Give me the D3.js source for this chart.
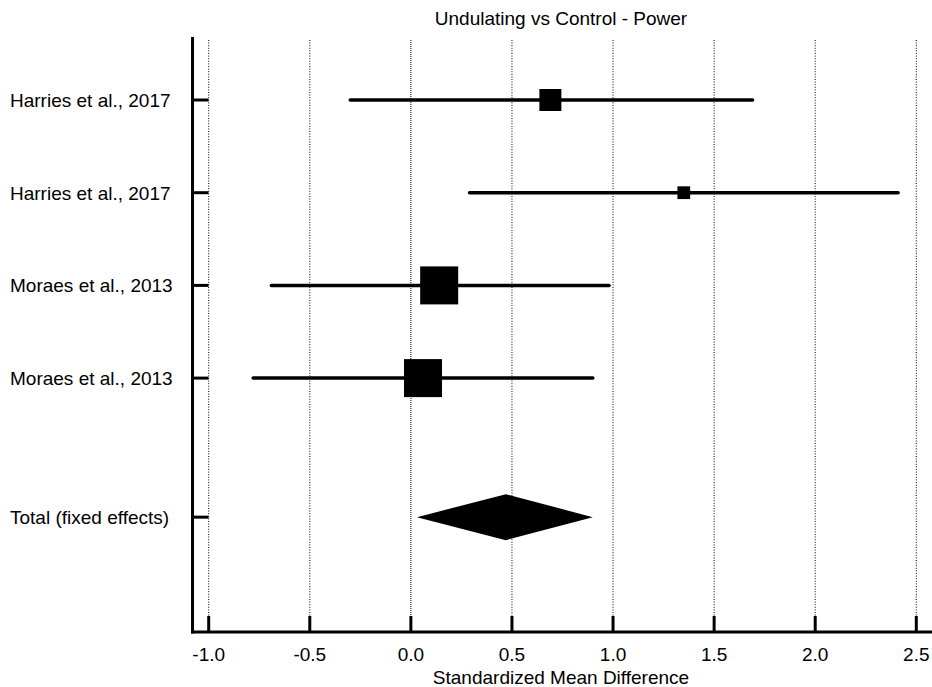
<!DOCTYPE html>
<html>
<head>
<meta charset="utf-8">
<script src="https://cdn.jsdelivr.net/npm/d3@7"></script>
<style>
  body { margin: 0; background: #fff; }
  svg text { font-family: "Liberation Sans", Arial, sans-serif; fill: #000; }
</style>
</head>
<body>
<svg id="chart" width="932" height="687"></svg>
<script>
// study rows
let studies = ["Harries et al., 2017", "Harries et al., 2017", "Moraes et al., 2013", "Moraes et al., 2013"];
let smd = [0.69, 1.35, 0.14, 0.06];
let lower = [-0.30, 0.29, -0.69, -0.78];
let upper = [1.69, 2.41, 0.98, 0.90];
let weights = [13.7, 4.6, 40.9, 40.9];

// pooled
let totalLabel = "Total (fixed effects)";
let totalEst = 0.47;
let totalLower = 0.03;
let totalUpper = 0.90;

let xTicks = [-1.0, -0.5, 0.0, 0.5, 1.0, 1.5, 2.0, 2.5];
let title = "Undulating vs Control - Power";
let xTitle = "Standardized Mean Difference";

let svg = d3.select('#chart');

let x = d3.scaleLinear().domain([-1, 2.5]).range([208.7, 916.3]);
let y = d3.scaleLinear().domain([0, 1]).range([100, 192.7]);
let size = d3.scaleSqrt().domain([0, 40.9]).range([0, 38]);

let plotTop = 37, plotBottom = 632;
let plotLeft = x(-1.08), plotRight = 932;
let fs = '19px';

// dotted grid lines
svg.selectAll('.grid')
    .data(xTicks)
    .enter()
    .append('line')
    .attr('x1', d => x(d))
    .attr('x2', d => x(d))
    .attr('y1', plotTop + 3)
    .attr('y2', plotBottom - 16)
    .attr('stroke', '#000')
    .attr('stroke-width', 1)
    .attr('stroke-dasharray', d => d === 0 ? '1,1' : '1,1.6');

// axes
svg.append('line')
    .attr('x1', plotLeft).attr('x2', plotLeft)
    .attr('y1', plotTop).attr('y2', plotBottom + 1.5)
    .attr('stroke', '#000').attr('stroke-width', 3);

svg.append('line')
    .attr('x1', plotLeft - 1.5).attr('x2', plotRight)
    .attr('y1', plotBottom).attr('y2', plotBottom)
    .attr('stroke', '#000').attr('stroke-width', 3);

// bottom ticks (inward)
svg.selectAll('.xtick')
    .data(xTicks)
    .enter()
    .append('line')
    .attr('x1', d => x(d)).attr('x2', d => x(d))
    .attr('y1', plotBottom).attr('y2', plotBottom - 16)
    .attr('stroke', '#000').attr('stroke-width', 3);

svg.selectAll('.xlab')
    .data(xTicks)
    .enter()
    .append('text')
    .attr('x', d => x(d))
    .attr('y', 661)
    .attr('text-anchor', 'middle')
    .attr('font-size', fs)
    .text(d => d.toFixed(1));

// row ticks and labels
let rows = studies.map((s, i) => ({label: s, pos: i}));
rows.push({label: totalLabel, pos: 4.5});

svg.selectAll('.ytick')
    .data(rows)
    .enter()
    .append('line')
    .attr('x1', plotLeft).attr('x2', plotLeft + 16)
    .attr('y1', d => y(d.pos)).attr('y2', d => y(d.pos))
    .attr('stroke', '#000').attr('stroke-width', 3);

svg.selectAll('.ylab')
    .data(rows)
    .enter()
    .append('text')
    .attr('x', 10)
    .attr('y', d => y(d.pos) + 7)
    .attr('font-size', fs)
    .text(d => d.label);

// confidence intervals
svg.selectAll('.ci')
    .data(smd)
    .enter()
    .append('line')
    .attr('x1', (d, i) => x(lower[i]))
    .attr('x2', (d, i) => x(upper[i]))
    .attr('y1', (d, i) => y(i))
    .attr('y2', (d, i) => y(i))
    .attr('stroke', '#000')
    .attr('stroke-width', 3.5)
    .attr('stroke-linecap', 'round');

// weighted squares
svg.selectAll('.box')
    .data(smd)
    .enter()
    .append('rect')
    .attr('x', (d, i) => x(d) - size(weights[i]) / 2)
    .attr('y', (d, i) => y(i) - size(weights[i]) / 2)
    .attr('width', (d, i) => size(weights[i]))
    .attr('height', (d, i) => size(weights[i]))
    .attr('fill', '#000');

// pooled diamond
let ty = y(4.5);
svg.append('path')
    .attr('d', 'M' + x(totalLower) + ',' + ty +
        ' L' + x(totalEst) + ',' + (ty - 23) +
        ' L' + x(totalUpper) + ',' + ty +
        ' L' + x(totalEst) + ',' + (ty + 23) + ' Z')
    .attr('fill', '#000');

// titles
svg.append('text')
    .attr('x', 561)
    .attr('y', 25)
    .attr('text-anchor', 'middle')
    .attr('font-size', fs)
    .text(title);

svg.append('text')
    .attr('x', 561)
    .attr('y', 684)
    .attr('text-anchor', 'middle')
    .attr('font-size', fs)
    .text(xTitle);
</script>
</body>
</html>
